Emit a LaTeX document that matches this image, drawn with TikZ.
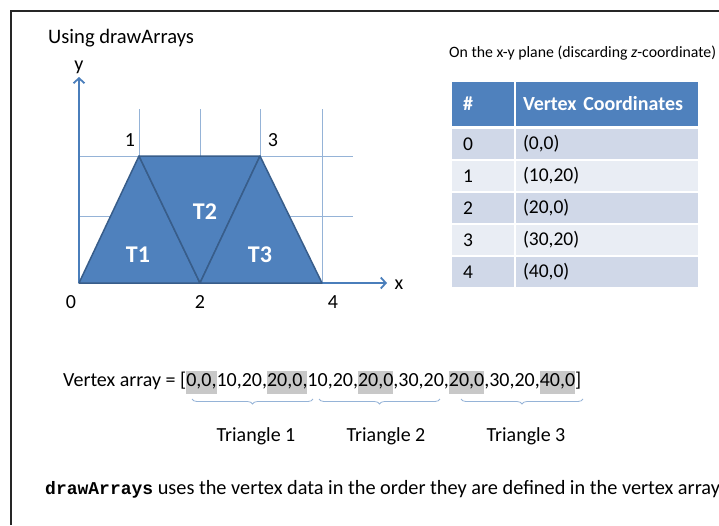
\documentclass[tikz,border=0pt]{standalone}
\usepackage{fontspec}
\setmainfont{Carlito}
\setmonofont{Liberation Mono}
\usetikzlibrary{arrows.meta,decorations.pathreplacing}
\definecolor{triblue}{HTML}{4F81BD}
\definecolor{triedge}{HTML}{385D8A}
\definecolor{gridblue}{HTML}{95B3D7}
\definecolor{axisblue}{HTML}{4A7EBB}
\definecolor{rowdark}{HTML}{D0D8E8}
\definecolor{rowlight}{HTML}{E9EDF4}
\definecolor{hlgrey}{HTML}{C8C8C8}
\newcommand{\hl}[1]{{\setlength{\fboxsep}{0pt}\colorbox{hlgrey}{\strut#1}}}
\tikzset{
  txt/.style={inner sep=0pt, font=\fontsize{20}{23}\selectfont},
  tri/.style={fill=triblue, draw=triedge, line width=1.5pt, line join=round},
  tname/.style={inner sep=0pt, text=white, font=\fontsize{24}{28}\selectfont\bfseries},
  cell/.style={anchor=north west, draw=white, line width=2pt, inner ysep=0pt,
    minimum height=32pt, align=left, font=\fontsize{19.5}{23}\selectfont},
  numcell/.style={cell, inner xsep=12pt, text width=40pt},
  crdcell/.style={cell, inner xsep=8pt, text width=168pt},
  headcell/.style={fill=triblue, minimum height=46pt, text=white,
    font=\fontsize{20}{23}\selectfont\bfseries},
  brace/.style={draw=gridblue, line width=0.8pt,
    decorate, decoration={brace, mirror, amplitude=5pt}}
}
\begin{document}
\begin{tikzpicture}[x=1pt, y=-1pt, >={Straight Barb[length=5pt, width=11pt]}]
  \useasboundingbox (0,0) rectangle (719,525);
  \draw[line width=1.4pt, black!85] (11,525) -- (11,11) -- (719,11);

  \node (title) [txt, anchor=west, font=\fontsize{20.6}{24}\selectfont] at (48,38) {Using drawArrays};

  % grid and axes
  \coordinate (o) at (79,283);
  \foreach \gx in {139,200,260,322}
    \draw[gridblue, line width=1pt] (\gx,109) -- (\gx,283);
  \foreach \gy in {156,216}
    \draw[gridblue, line width=1pt] (79,\gy) -- (353,\gy);
  \coordinate (xend) at (387,283);
  \coordinate (yend) at (79,77);
  \draw[->, axisblue, line width=1.8pt] (o) -- (xend);
  \draw[->, axisblue, line width=1.8pt] (o) -- (yend);
  \node (xl) [txt] at (399,285) {x};
  \node (yl) [txt] at (79,67) {y};

  % vertices and triangles
  \coordinate (v0) at (79,283);
  \coordinate (v1) at (139,156);
  \coordinate (v2) at (200,283);
  \coordinate (v3) at (260,156);
  \coordinate (v4) at (322,283);
  \draw[tri] (v0) -- (v1) -- (v2) -- cycle;
  \draw[tri] (v1) -- (v3) -- (v2) -- cycle;
  \draw[tri] (v2) -- (v3) -- (v4) -- cycle;
  \node (n0) [txt] at (71,302) {0};
  \node (n1) [txt] at (130,140) {1};
  \node (n2) [txt] at (200,302) {2};
  \node (n3) [txt] at (273,140) {3};
  \node (n4) [txt] at (333,302) {4};
  \node (t1) [tname] at (138,255) {T1};
  \node (t2) [tname] at (205,212) {T2};
  \node (t3) [tname] at (260,255) {T3};

  % table
  \node (plane) [inner sep=0pt, anchor=west, font=\fontsize{15.8}{18}\selectfont]
    at (449,53) {On the x-y plane (discarding \textit{z}-coordinate)};
  \node (h0) [numcell, headcell] at (450,80) {\#};
  \node (h1) [crdcell, headcell] at (514,80) {Vertex Coordinates};
  \node (r0a) [numcell, fill=rowdark] at (450,127) {0};
  \node (r0b) [crdcell, fill=rowdark] at (514,127) {(0,0)};
  \node (r1a) [numcell, fill=rowlight] at (450,159) {1};
  \node (r1b) [crdcell, fill=rowlight] at (514,159) {(10,20)};
  \node (r2a) [numcell, fill=rowdark] at (450,191) {2};
  \node (r2b) [crdcell, fill=rowdark] at (514,191) {(20,0)};
  \node (r3a) [numcell, fill=rowlight] at (450,223) {3};
  \node (r3b) [crdcell, fill=rowlight] at (514,223) {(30,20)};
  \node (r4a) [numcell, fill=rowdark] at (450,255) {4};
  \node (r4b) [crdcell, fill=rowdark] at (514,255) {(40,0)};

  % vertex array
  \node (arr) [txt, anchor=west] at (63,382)
    {Vertex array = [\hl{0,0,}10,20,\hl{20,0,}10,20,\hl{20,0},30,20,\hl{20,0},30,20,\hl{40,0}]};
  \coordinate (b1s) at (192,399);
  \coordinate (b1e) at (313,399);
  \coordinate (b2s) at (319,399);
  \coordinate (b2e) at (440,399);
  \coordinate (b3s) at (461,399);
  \coordinate (b3e) at (583,399);
  \draw[brace] (b1s) -- (b1e);
  \draw[brace] (b2s) -- (b2e);
  \draw[brace] (b3s) -- (b3e);
  \node (tr1) [txt] at (256,436) {Triangle 1};
  \node (tr2) [txt] at (386,436) {Triangle 2};
  \node (tr3) [txt] at (526,436) {Triangle 3};

  \node (note) [txt, anchor=west, font=\fontsize{20.3}{24}\selectfont] at (45,489)
    {{\ttfamily\bfseries\fontsize{18}{22}\selectfont drawArrays} uses the vertex data in the order they are defined in the vertex array};
\end{tikzpicture}
\end{document}
